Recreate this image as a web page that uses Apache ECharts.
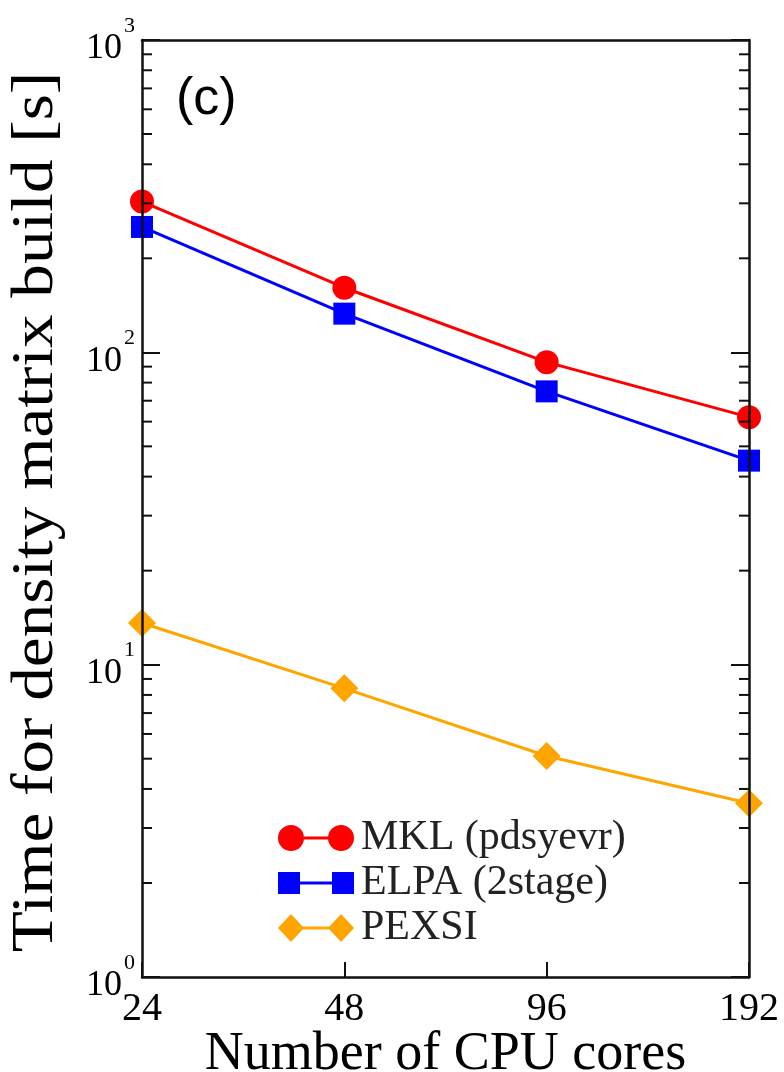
<!DOCTYPE html>
<html><head><meta charset="utf-8">
<script src="https://cdn.jsdelivr.net/npm/echarts@6/dist/echarts.min.js"></script>
<style>html,body{margin:0;padding:0;background:#fff}#c{width:784px;height:1072px}</style>
</head><body><div id="c"></div>
<script>
// ---- data ----
const cores = ['24', '48', '96', '192'];
const mkl = [304, 161, 93, 62];
const elpa = [252, 133, 75, 45];
const pexsi = [13.6, 8.4, 5.1, 3.6];
const seriesNames = ['MKL (pdsyevr)', 'ELPA (2stage)', 'PEXSI'];
const minorTickValues = [2, 3, 4, 5, 6, 7, 8, 9, 20, 30, 40, 50, 60, 70, 80, 90, 200, 300, 400, 500, 600, 700, 800, 900];
const xAxisTitle = 'Number of CPU cores';
const yAxisTitle = 'Time for density matrix build [s]';
const panelLabel = '(c)';

// ---- chart ----
const chart = echarts.init(document.getElementById('c'), null, {renderer: 'canvas'});
const serif = "'Liberation Serif', 'Times New Roman', serif";
const sans = "'Liberation Sans', Arial, sans-serif";
const RED = '#ff0000', BLUE = '#0000ff', ORANGE = '#ffa500', AX = '#111';

const iconCircle = 'path://M0,14A13,13 0 1,1 26,14A13,13 0 1,1 0,14Z M50,14A13,13 0 1,1 76,14A13,13 0 1,1 50,14Z M20,12.5L56,12.5L56,15.5L20,15.5Z';
const iconRect = 'path://M0,3L22,3L22,25L0,25Z M54,3L76,3L76,25L54,25Z M20,12.5L56,12.5L56,15.5L20,15.5Z';
const iconDiamond = 'path://M13,0L26,14L13,28L0,14Z M63,0L76,14L63,28L50,14Z M20,12.5L56,12.5L56,15.5L20,15.5Z';

const minorData = minorTickValues.map(v => [0, v]);

const option = {
  backgroundColor: '#fff',
  animation: false,
  grid: {left: 142, right: 35, top: 40, bottom: 95, containLabel: false, outerBoundsMode: 'none'},
  xAxis: [{
    type: 'category', data: cores, boundaryGap: false, position: 'bottom', z: 5,
    axisLine: {lineStyle: {color: AX, width: 2.5}},
    axisTick: {inside: true, length: 15, alignWithLabel: true, lineStyle: {color: AX, width: 2}},
    axisLabel: {color: '#000', fontFamily: serif, fontSize: 40, margin: 12},
    splitLine: {show: false},
    name: xAxisTitle, nameLocation: 'middle', nameGap: 51, nameMoveOverlap: false,
    nameTextStyle: {color: '#000', fontFamily: serif, fontSize: 54, verticalAlign: 'top', lineHeight: 54}
  }, {
    type: 'category', data: cores, boundaryGap: false, position: 'top', z: 5,
    axisLine: {lineStyle: {color: AX, width: 2.5}},
    axisTick: {show: false}, axisLabel: {show: false}, splitLine: {show: false}
  }],
  yAxis: [{
    type: 'log', min: 1, max: 1000, position: 'left', z: 5,
    axisLine: {show: true, lineStyle: {color: AX, width: 2.5}},
    axisTick: {show: true, inside: true, length: 18, lineStyle: {color: AX, width: 2}},
    splitLine: {show: false},
    axisLabel: {
      margin: 7, padding: [18, 0, 0, 0],
      formatter: v => '{b|10}{s|' + Math.round(Math.log10(v)) + '}',
      rich: {
        b: {fontFamily: serif, fontSize: 36, color: '#000', lineHeight: 68, verticalAlign: 'middle', padding: [0, 2, 0, 0]},
        s: {fontFamily: serif, fontSize: 22, color: '#000', lineHeight: 22, verticalAlign: 'top'}
      }
    }
  }, {
    type: 'log', min: 1, max: 1000, position: 'right', z: 5,
    axisLine: {show: true, lineStyle: {color: AX, width: 2.5}},
    axisTick: {show: true, inside: true, length: 18, lineStyle: {color: AX, width: 2}},
    axisLabel: {show: false}, splitLine: {show: false}
  }],
  legend: {
    orient: 'vertical', left: 273, top: 812, itemWidth: 76, itemHeight: 28, itemGap: 3,
    textStyle: {fontFamily: serif, fontSize: 42, color: '#222', padding: [0, 0, 0, 2]},
    data: [
      {name: seriesNames[0], icon: iconCircle},
      {name: seriesNames[1], icon: iconRect},
      {name: seriesNames[2], icon: iconDiamond}
    ]
  },
  graphic: [
    {type: 'text', left: 176, top: 74, style: {text: panelLabel, font: "52px " + sans, fill: '#000'}},
    {type: 'text', x: 36, y: 512, rotation: Math.PI / 2, scaleX: 1.12,
     style: {text: yAxisTitle, font: "60px " + serif, fill: '#000', textAlign: 'center', textVerticalAlign: 'middle'}}
  ],
  series: [
    {name: seriesNames[0], type: 'line', data: mkl, symbol: 'circle', symbolSize: 24, symbolKeepAspect: true,
     lineStyle: {color: RED, width: 3}, itemStyle: {color: RED}, clip: false, z: 3},
    {name: seriesNames[1], type: 'line', data: elpa, symbol: 'rect', symbolSize: 22, symbolKeepAspect: true,
     lineStyle: {color: BLUE, width: 3}, itemStyle: {color: BLUE}, clip: false, z: 3},
    {name: seriesNames[2], type: 'line', data: pexsi, symbol: 'diamond', symbolSize: [28, 28], symbolKeepAspect: true,
     lineStyle: {color: ORANGE, width: 3}, itemStyle: {color: ORANGE}, clip: false, z: 3},
    {type: 'custom', name: 'minorTicks', silent: true, z: 6, data: minorData,
     encode: {x: 0, y: 1},
     renderItem: (params, api) => {
       const v = api.value(1);
       const l = api.coord([0, v]);
       const r = api.coord([cores.length - 1, v]);
       const st = {stroke: AX, lineWidth: 2};
       return {type: 'group', children: [
         {type: 'line', shape: {x1: l[0], y1: l[1], x2: l[0] + 10, y2: l[1]}, style: st},
         {type: 'line', shape: {x1: r[0] - 10, y1: r[1], x2: r[0], y2: r[1]}, style: st}
       ]};
     }}
  ]
};
chart.setOption(option);
</script>
</body></html>
